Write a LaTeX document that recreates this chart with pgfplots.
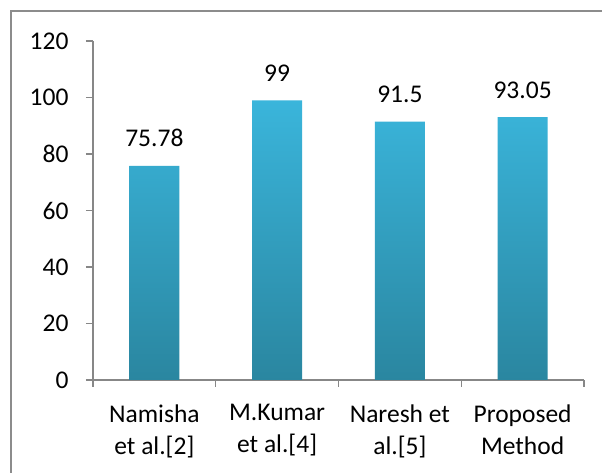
\documentclass[border=0pt]{standalone}
\usepackage{pgfplots}
\pgfplotsset{compat=1.18}
\usepackage{fontspec}
\setmainfont{Carlito}
\definecolor{bartop}{HTML}{3AB5DB}
\definecolor{barbot}{HTML}{2A86A0}
\definecolor{axgray}{HTML}{878787}
\definecolor{framegray}{HTML}{8C8C8C}
\begin{document}
\begin{tikzpicture}[x=1pt,y=1pt]
\useasboundingbox (0,0) rectangle (602,473);
\fill[white] (0,0) rectangle (602,473);
\draw[framegray, line width=1.5pt] (11,-5) -- (11,462) -- (610,462);
\begin{axis}[
  at={(93pt,93pt)}, anchor=south west,
  scale only axis, width=491pt, height=339pt,
  xmin=-0.5, xmax=3.5, ymin=0, ymax=120,
  axis x line*=bottom, axis y line*=left,
  axis line style={axgray, line width=1.2pt},
  ytick={0,20,...,120},
  xtick={0,1,2,3},
  xticklabels={{Namisha\\et al.[2]},{M.Kumar\\et al.[4]},{Naresh et\\al.[5]},{Proposed\\Method}},
  minor xtick={-0.5,0.5,1.5,2.5,3.5},
  every major x tick/.append style={draw=none},
  tick align=outside, major tick length=7pt, minor tick length=7pt,
  tick style={axgray, line width=1.2pt},
  /pgf/number format/assume math mode=true,
  tick label style={font=\fontsize{25.5}{32}\selectfont, text=black},
  xticklabel style={align=center, yshift=-14pt},
  yticklabel style={xshift=-14pt},
  ybar, bar width=50pt,
  point meta=explicit symbolic,
  nodes near coords,
  every node near coord/.append style={font=\fontsize{25.5}{30}\selectfont, text=black, anchor=base, yshift=19pt},
  clip=false,
]
\addplot[draw=none, top color=bartop, bottom color=barbot] coordinates {
  (0,75.78) [75.78]
  (1,99) [99]
  (2,91.5) [91.5]
  (3,93.05) [93.05]
};
\end{axis}
\end{tikzpicture}
\end{document}
